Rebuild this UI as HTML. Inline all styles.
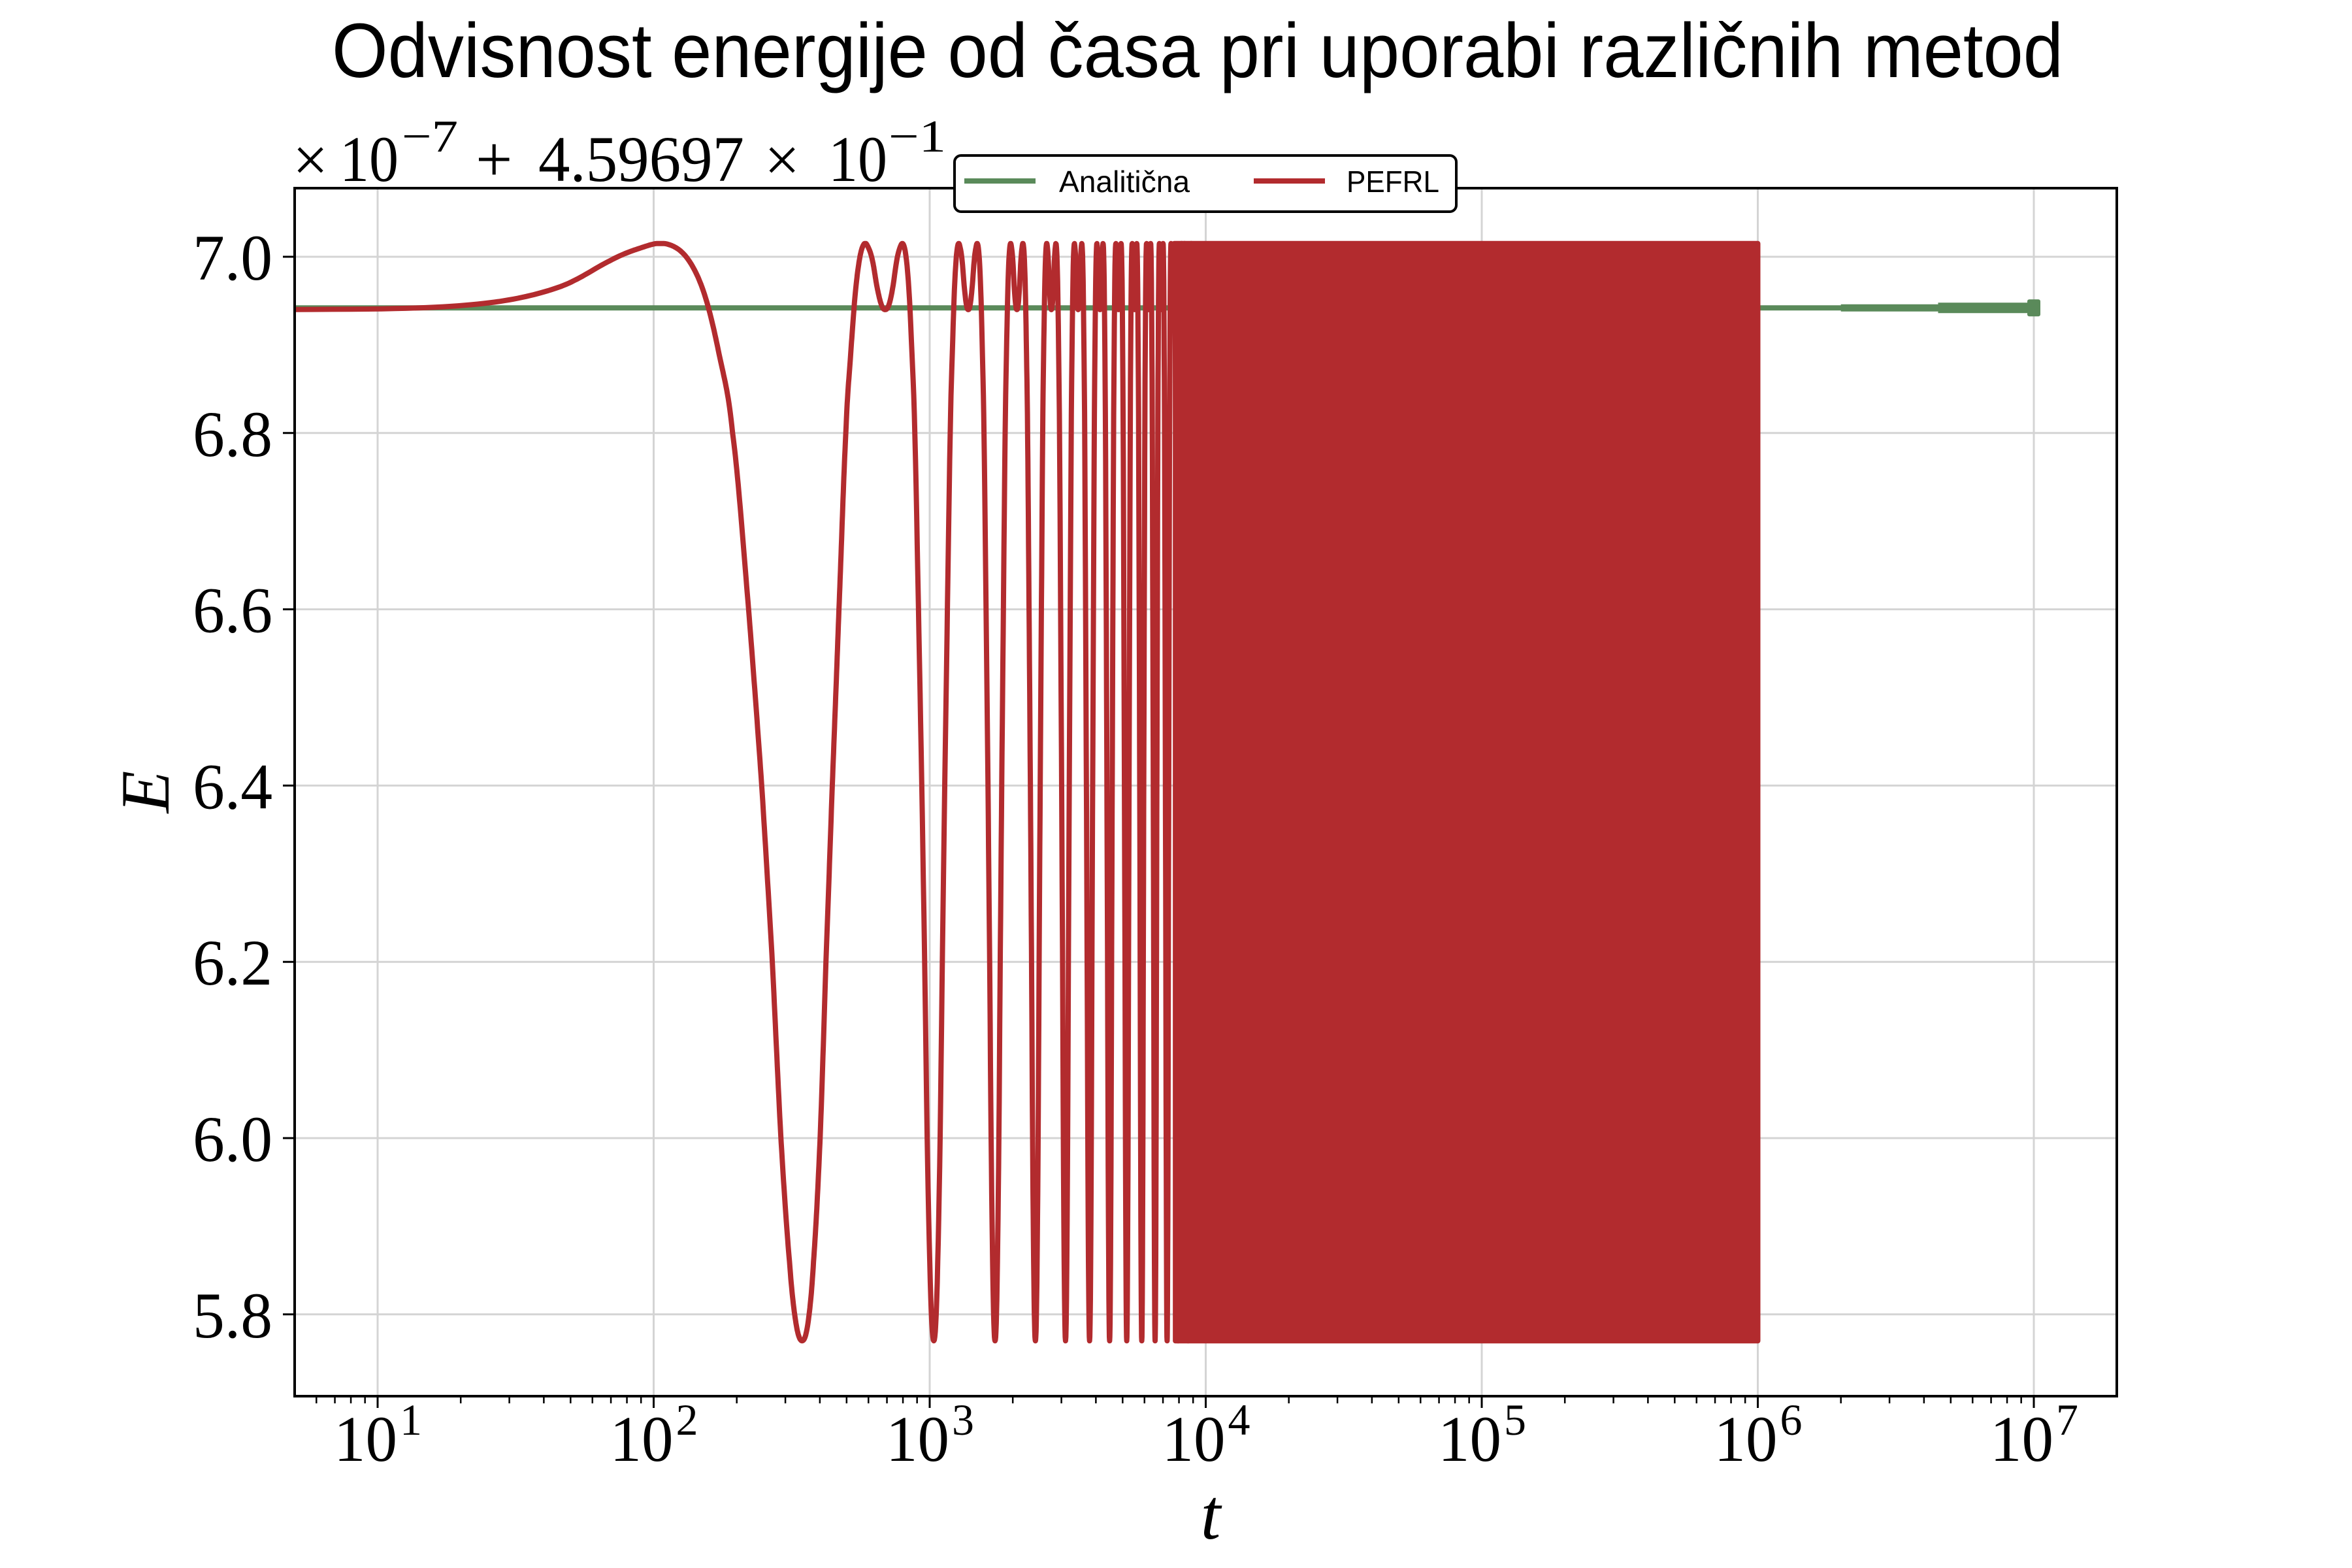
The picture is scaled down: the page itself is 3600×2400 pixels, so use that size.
<!DOCTYPE html>
<html><head><meta charset="utf-8"><title>Odvisnost energije</title>
<style>html,body{margin:0;padding:0;background:#fff}svg{display:block}</style></head>
<body>
<svg id="chart" xmlns="http://www.w3.org/2000/svg" width="3600" height="2400" viewBox="0 0 3600 2400">
<rect x="0" y="0" width="3600" height="2400" fill="#fff"/>
<text x="1833" y="118" font-family="Liberation Sans, DejaVu Sans, sans-serif" font-size="118" textLength="2650" lengthAdjust="spacingAndGlyphs" text-anchor="middle">Odvisnost energije od časa pri uporabi različnih metod</text>
<g id="grid"></g>
<g id="plot"></g>
<rect x="451" y="288" width="2789" height="1849" fill="none" stroke="#000" stroke-width="4"/>
<g id="ticks"></g>
<g font-family="Liberation Serif, DejaVu Serif, serif">
<text x="448" y="277" font-size="96">×</text>
<text x="520" y="277" font-size="100" textLength="90" lengthAdjust="spacingAndGlyphs">10</text>
<text x="615" y="232" font-size="70" textLength="86" lengthAdjust="spacingAndGlyphs">−7</text>
<text x="728" y="277" font-size="100">+</text>
<text x="824" y="277" font-size="100" textLength="315" lengthAdjust="spacingAndGlyphs">4.59697</text>
<text x="1170" y="277" font-size="96">×</text>
<text x="1268" y="277" font-size="100" textLength="90" lengthAdjust="spacingAndGlyphs">10</text>
<text x="1360" y="232" font-size="70" textLength="88" lengthAdjust="spacingAndGlyphs">−1</text>
</g>
<text x="1853" y="2355" font-family="Liberation Serif, DejaVu Serif, serif" font-style="italic" font-size="110" text-anchor="middle">t</text>
<text x="0" y="0" transform="translate(258,1212) rotate(-90)" font-family="Liberation Serif, DejaVu Serif, serif" font-style="italic" font-size="106" text-anchor="middle">E</text>
<g>
<rect x="1461" y="238" width="768" height="86" rx="10" fill="#fff" stroke="#000" stroke-width="4"/>
<line x1="1476" y1="277" x2="1585" y2="277" stroke="#5a8a5a" stroke-width="8"/>
<text x="1621" y="294" font-family="Liberation Sans, DejaVu Sans, sans-serif" font-size="46" textLength="200" lengthAdjust="spacingAndGlyphs">Analitična</text>
<line x1="1919" y1="277" x2="2028" y2="277" stroke="#b22b2e" stroke-width="8"/>
<text x="2061" y="294" font-family="Liberation Sans, DejaVu Sans, sans-serif" font-size="46" textLength="142" lengthAdjust="spacingAndGlyphs">PEFRL</text>
</g>
</svg>
<script>
// ---- data ----
const xDecades = [1, 2, 3, 4, 5, 6, 7];
const yTicks = [5.8, 6.0, 6.2, 6.4, 6.6, 6.8, 7.0];
const yTickLabels = ["5.8", "6.0", "6.2", "6.4", "6.6", "6.8", "7.0"];
const analyticT = [5, 1e7];
const analyticE = [6.942, 6.942];
// PEFRL: shape of one oscillation cycle (fraction of period, energy)
const cyclePhase = [0, 0.03, 0.065, 0.10, 0.13, 0.159, 0.19, 0.22, 0.25, 0.28, 0.32, 0.357, 0.39, 0.419, 0.45, 0.475, 0.5,
                    0.525, 0.55, 0.581, 0.61, 0.643, 0.68, 0.72, 0.75, 0.78, 0.81, 0.841, 0.87, 0.90, 0.935, 0.97, 1];
const cycleE = [6.94, 6.945, 6.965, 6.995, 7.01, 7.015, 7.0, 6.96, 6.89, 6.80, 6.60, 6.40, 6.20, 6.00, 5.86, 5.79, 5.77,
                5.79, 5.86, 6.00, 6.20, 6.40, 6.60, 6.80, 6.89, 6.96, 7.0, 7.015, 7.01, 6.995, 6.965, 6.945, 6.94];
const cyclePeriod = 690;
const cycleStarts = [0, 690, 1380, 2070, 2760, 3450, 4140, 4830, 5520, 6210, 6900, 7590, 8280];
const firstT = 5;
const denseT = [7600, 1.0e6];
const denseE = [5.77, 7.015];

// ---- axes ----
const X = t => 578 + (Math.log10(t) - 1) * 422.5;
const Y = e => 393 + (7.0 - e) * 1349;
const NS = "http://www.w3.org/2000/svg";
function mk(tag, attrs, parent) {
  const el = document.createElementNS(NS, tag);
  for (const k in attrs) el.setAttribute(k, attrs[k]);
  parent.appendChild(el);
  return el;
}
const grid = document.getElementById('grid');
const ticks = document.getElementById('ticks');
const plot = document.getElementById('plot');

xDecades.forEach(d => {
  const x = X(Math.pow(10, d));
  const g = mk('line', {x1: x, y1: 288, x2: x, y2: 2137, stroke: '#d4d4d4', 'stroke-width': 3}, grid);
  
  
  const tk = mk('line', {x1: x, y1: 2137, x2: x, y2: 2155, stroke: '#000', 'stroke-width': 3}, ticks);
  
  
  const lab = mk('text', {x: x - 67, y: 2236, 'font-family': 'Liberation Serif, DejaVu Serif, serif', 'font-size': 100, textLength: 97, lengthAdjust: 'spacingAndGlyphs'}, ticks);
  lab.textContent = '10';
  
  
  const sup = mk('text', {x: x + 34, y: 2196, 'font-family': 'Liberation Serif, DejaVu Serif, serif', 'font-size': 68}, ticks);
  sup.textContent = String(d);
  
  
});
for (let d = 0; d <= 7; d++) {
  for (let m = 2; m <= 9; m++) {
    const t = m * Math.pow(10, d);
    const x = X(t);
    if (x <= 451 || x >= 3240) continue;
    const mt = mk('line', {x1: x, y1: 2137, x2: x, y2: 2148, stroke: '#000', 'stroke-width': 2.5}, ticks);
    
    
  }
}
yTicks.forEach((v, i) => {
  const y = Y(v);
  const g = mk('line', {x1: 451, y1: y, x2: 3240, y2: y, stroke: '#d4d4d4', 'stroke-width': 3}, grid);
  
  
  const tk = mk('line', {x1: 433, y1: y, x2: 451, y2: y, stroke: '#000', 'stroke-width': 3}, ticks);
  
  
  const lab = mk('text', {x: 417, y: y + 35, 'text-anchor': 'end', 'font-family': 'Liberation Serif, DejaVu Serif, serif', 'font-size': 100, textLength: 122, lengthAdjust: 'spacingAndGlyphs'}, ticks);
  lab.textContent = yTickLabels[i];
  
  
});

// ---- analytic series ----
const gl = mk('line', {x1: X(analyticT[0]), y1: Y(analyticE[0]), x2: X(analyticT[1]), y2: Y(analyticE[1]), stroke: '#5a8a5a', 'stroke-width': 8}, plot);


const gt1 = mk('line', {x1: X(2e6), y1: Y(analyticE[1]), x2: X(analyticT[1]), y2: Y(analyticE[1]), stroke: '#5a8a5a', 'stroke-width': 11}, plot);


const gt2 = mk('line', {x1: X(4.5e6), y1: Y(analyticE[1]), x2: X(analyticT[1]), y2: Y(analyticE[1]), stroke: '#5a8a5a', 'stroke-width': 16}, plot);


const gend = mk('rect', {x: X(analyticT[1]) - 10, y: Y(analyticE[1]) - 13, width: 20, height: 26, rx: 3, fill: '#5a8a5a'}, plot);



// ---- PEFRL series (Catmull-Rom smoothing across template points) ----
function cycleValue(f) {
  const n = cyclePhase.length;
  let i = 0;
  while (i < n - 2 && f > cyclePhase[i + 1]) i++;
  const p0 = i > 0 ? cycleE[i - 1] : cycleE[n - 2];
  const p1 = cycleE[i], p2 = cycleE[i + 1];
  const p3 = i + 2 < n ? cycleE[i + 2] : cycleE[1];
  const u = (f - cyclePhase[i]) / (cyclePhase[i + 1] - cyclePhase[i]);
  const u2 = u * u, u3 = u2 * u;
  const v = 0.5 * ((2 * p1) + (-p0 + p2) * u + (2 * p0 - 5 * p1 + 4 * p2 - p3) * u2 + (-p0 + 3 * p1 - 3 * p2 + p3) * u3);
  return Math.max(Math.min(v, 7.015), 5.77);
}
let pts = [];
cycleStarts.forEach((s, ci) => {
  const steps = ci === 0 ? 600 : (ci < 4 ? 160 : 80);
  for (let k = 0; k < steps; k++) {
    const f = k / steps;
    const t = s + f * cyclePeriod;
    if (t < firstT) continue;
    if (pts.length === 0) pts.push([X(firstT), Y(cycleValue(firstT / cyclePeriod))]);
    pts.push([X(t), Y(cycleValue(f))]);
  }
});
const last = cycleStarts[cycleStarts.length - 1] + cyclePeriod;
pts.push([X(last), Y(cycleE[cycleE.length - 1])]);
const rp = mk('path', {d: 'M' + pts.map(p => p[0].toFixed(1) + ',' + p[1].toFixed(1)).join('L'), fill: 'none', stroke: '#b22b2e', 'stroke-width': 8, 'stroke-linejoin': 'round'}, plot);


const band = mk('rect', {x: X(denseT[0]), y: Y(denseE[1]) - 4, width: X(denseT[1]) - X(denseT[0]) + 4, height: Y(denseE[0]) - Y(denseE[1]) + 8, rx: 4, fill: '#b22b2e'}, plot);


</script>
</body></html>
